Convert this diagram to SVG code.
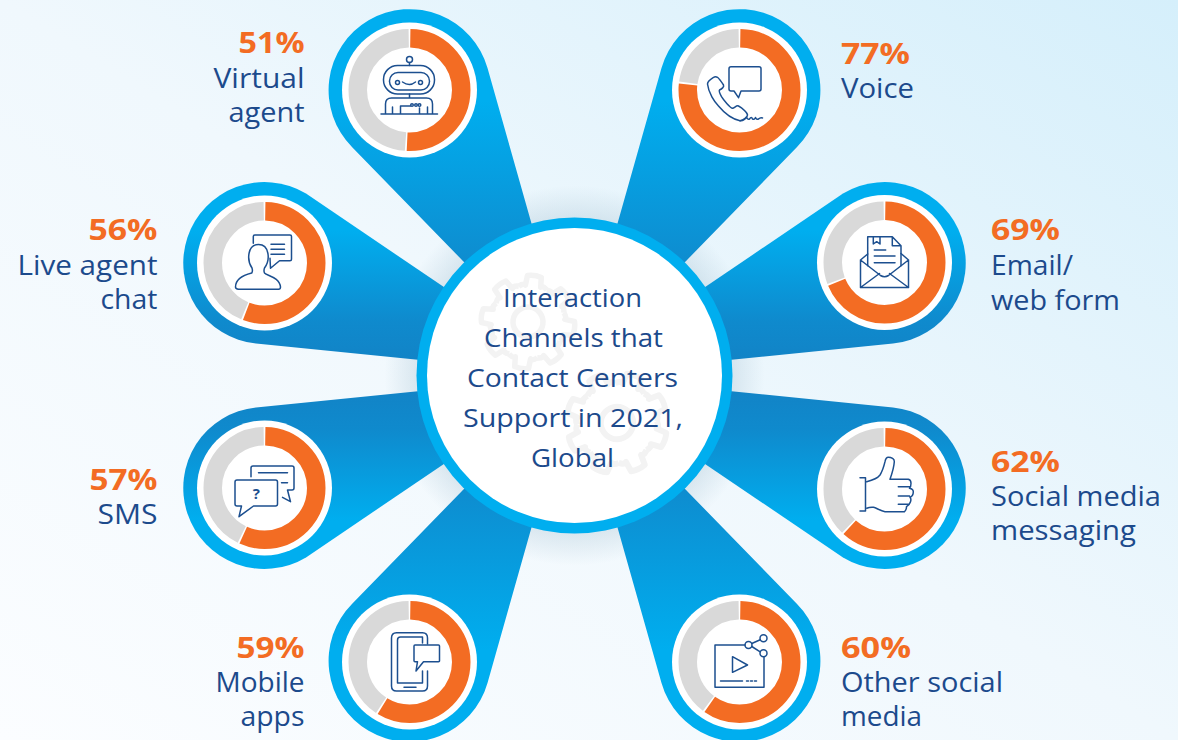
<svg xmlns="http://www.w3.org/2000/svg" width="1178" height="740" viewBox="0 0 1178 740">
<style>
.t{font-family:"Open Sans","Noto Sans","Liberation Sans",sans-serif;font-size:27px;font-weight:500;fill:#1c4a8c}
.p{font-family:"Open Sans","Noto Sans","Liberation Sans",sans-serif;font-size:29px;font-weight:700;fill:#f36c23}
.c{font-family:"Open Sans","Noto Sans","Liberation Sans",sans-serif;font-size:26px;font-weight:500;fill:#1c4a8c}
.ring{fill:#fff}
.g{fill:none;stroke:#d9d9d9;stroke-width:18.5}
.o{fill:none;stroke:#f36c23;stroke-width:18.5}
.i{fill:none;stroke:#1c4f8f;stroke-width:1.5;stroke-linecap:round;stroke-linejoin:round}
.gear{fill:none;stroke:#f3f3f3;stroke-width:5.5;stroke-linejoin:round}
</style>
<defs>
<linearGradient id="bg" x1="0" y1="1" x2="1" y2="0">
<stop offset="0" stop-color="#fbfdff"/><stop offset=".5" stop-color="#f0f8fd"/><stop offset="1" stop-color="#d5effb"/>
</linearGradient>
<radialGradient id="halo" cx="574.5" cy="375.5" r="190" gradientUnits="userSpaceOnUse">
<stop offset=".8" stop-color="#a9c4d4" stop-opacity=".4"/><stop offset="1" stop-color="#a9c4d4" stop-opacity="0"/>
</radialGradient>
<linearGradient id="pg" x1="0" y1="0" x2="0" y2="1">
<stop offset=".25" stop-color="#00aeef"/><stop offset=".72" stop-color="#0f8acd"/><stop offset="1" stop-color="#1381c4"/>
</linearGradient>
<path id="pa" fill="url(#pg)" d="M574.5,375.5L487.5,68A81,81 0 1 0 352.2,147.3Z"/>
<path id="pb" fill="url(#pg)" d="M574.5,375.5L256,343.6A81,81 0 1 1 306,193.6Z"/>
<path id="seg" d="M34.2,-14.2Q38,-10 36.2,-7.7L46,-7Q48,0 46,7L36.2,7.7Q38,10 34.2,14.2"/>
<g id="gearShape" class="gear">
<use href="#seg"/><use href="#seg" transform="rotate(45)"/><use href="#seg" transform="rotate(90)"/><use href="#seg" transform="rotate(135)"/><use href="#seg" transform="rotate(180)"/><use href="#seg" transform="rotate(225)"/><use href="#seg" transform="rotate(270)"/><use href="#seg" transform="rotate(315)"/>
<circle r="15"/>
</g>
</defs>
<rect width="1178" height="740" fill="url(#bg)"/>
<circle cx="574.5" cy="375.5" r="190" fill="url(#halo)"/>
<g id="connectors">
<use href="#pa"/>
<use href="#pa" transform="translate(1149,0) scale(-1,1)"/>
<use href="#pb"/>
<use href="#pb" transform="translate(1149,0) scale(-1,1)"/>
<use href="#pb" transform="translate(0,751) scale(1,-1)"/>
<use href="#pb" transform="translate(1149,751) scale(-1,-1)"/>
<use href="#pa" transform="translate(0,751) scale(1,-1)"/>
<use href="#pa" transform="translate(1149,751) scale(-1,-1)"/>
</g>

<g id="center">
<circle cx="574.5" cy="375.5" r="158" fill="#00aeef"/>
<circle cx="574.5" cy="375.5" r="147.5" fill="#fff"/>
<use href="#gearShape" transform="translate(528,322) rotate(8)"/>
<use href="#gearShape" transform="translate(617,423) rotate(20) scale(1.08)"/>
<text class="c" x="572.5" y="307" text-anchor="middle" textLength="139" lengthAdjust="spacingAndGlyphs">Interaction</text>
<text class="c" x="573.5" y="347" text-anchor="middle" textLength="179" lengthAdjust="spacingAndGlyphs">Channels that</text>
<text class="c" x="572.5" y="387" text-anchor="middle" textLength="211" lengthAdjust="spacingAndGlyphs">Contact Centers</text>
<text class="c" x="573" y="427" text-anchor="middle" textLength="220" lengthAdjust="spacingAndGlyphs">Support in 2021,</text>
<text class="c" x="572.5" y="467" text-anchor="middle" textLength="83" lengthAdjust="spacingAndGlyphs">Global</text>
</g>

<g id="virtual-agent">
<g transform="translate(409.5,90)">
<circle class="ring" r="67.5"/>
<g transform="rotate(-90)"><circle class="g" r="51.75" pathLength="100" stroke-dasharray="48.5 51.5" stroke-dashoffset="-51.25"/><circle class="o" r="51.75" pathLength="100" stroke-dasharray="50.5 49.5" stroke-dashoffset="-.25"/></g>
<g class="i"><circle cy="-30.5" r="3"/><path d="M0-27.5V-24.5M0 4V8M-7-8Q0-3 6-8M-28.5 24H28M-24 24V14Q-24 8-18 8H17Q23 8 23 14V24M-17 17V24M-9 24V16H1M10 18V24M18 17V24"/><rect x="-26" y="-24.5" width="51" height="28.5" rx="14"/><rect x="-20" y="-17.5" width="40" height="17.5" rx="8.5"/><circle cx="-12" cy="-7.5" r="2"/><circle cx="11" cy="-7.5" r="2"/><circle cx="2.5" cy="15" r="1.3"/><circle cx="6.5" cy="15" r="1.3"/><circle cx="10" cy="15" r="1.3"/></g>
</g>
<text class="p" x="304.5" y="53" text-anchor="end" textLength="66" lengthAdjust="spacingAndGlyphs">51%</text>
<text class="t" x="304.5" y="88" text-anchor="end" textLength="91" lengthAdjust="spacingAndGlyphs">Virtual</text>
<text class="t" x="304.5" y="122" text-anchor="end" textLength="76" lengthAdjust="spacingAndGlyphs">agent</text>
</g>

<g id="voice">
<g transform="translate(739.5,90)">
<circle class="ring" r="67.5"/>
<g transform="rotate(-90)"><circle class="g" r="51.75" pathLength="100" stroke-dasharray="22.5 77.5" stroke-dashoffset="-77.25"/><circle class="o" r="51.75" pathLength="100" stroke-dasharray="76.5 23.5" stroke-dashoffset="-.25"/></g>
<g class="i"><path d="M-8.5-23.3H19.5Q21.5-23.3 21.5-21.3V-1Q21.5 1 19.5 1H1.5L-1 7.7L-5.5 1H-8.5Q-10.5 1-10.5-1V-21.3Q-10.5-23.3-8.5-23.3Z"/><path d="M-26-12.7Q-32-9-32-6C-31 3-25 12-21 16C-16 22-8 29 0.5 30.7C4 30 8 27 8 25C8 23 3 18-1 16C-3 15-5 18-7 18.3C-9 18.5-16 10-18 6.7C-20 3-21 1-20 0C-18-1-15-3-16-5C-18-8-20-11-22-12.7Q-24-14-26-12.7Z"/><path d="M0.5 30.7Q5 31 7 27Q8 30 10 29Q12 26 13 29Q15 30 16 27.5Q17 30 19 29Q21 27 23 28"/></g>
</g>
<text class="p" x="841" y="64" textLength="69" lengthAdjust="spacingAndGlyphs">77%</text>
<text class="t" x="841" y="98" textLength="73" lengthAdjust="spacingAndGlyphs">Voice</text>
</g>

<g id="live-agent-chat">
<g transform="translate(264.5,263)">
<circle class="ring" r="67.5"/>
<g transform="rotate(-90)"><circle class="g" r="51.75" pathLength="100" stroke-dasharray="43.5 56.5" stroke-dashoffset="-56.25"/><circle class="o" r="51.75" pathLength="100" stroke-dasharray="55.5 44.5" stroke-dashoffset="-.25"/></g>
<g class="i"><path d="M-11.2-19.7V-26.5Q-11.2-28-9.7-28H25.5Q27-28 27-26.5V-3.8Q27-2.3 25.5-2.3H15L6 5.3L5.5-4.7M6.5-18.7H20M6.5-13.7H20M6.5-8.7H20"/><path d="M-12.5 5C-18-3-17-18.5-6-18.5C5-18.5 6-3 0 5Q-1 8 0 10C3 13 15 14 16 24Q16 26.3 14 26.3H-26Q-29 26-29 24C-29 18-25 13-12.8 10Q-11.5 8-12.5 5Z"/></g>
</g>
<text class="p" x="157.5" y="240" text-anchor="end" textLength="69" lengthAdjust="spacingAndGlyphs">56%</text>
<text class="t" x="157.5" y="275" text-anchor="end" textLength="140" lengthAdjust="spacingAndGlyphs">Live agent</text>
<text class="t" x="157.5" y="309" text-anchor="end" textLength="57" lengthAdjust="spacingAndGlyphs">chat</text>
</g>

<g id="email-web-form">
<g transform="translate(884.5,262.5)">
<circle class="ring" r="67.5"/>
<g transform="rotate(-90)"><circle class="g" r="51.75" pathLength="100" stroke-dasharray="30.5 69.5" stroke-dashoffset="-69.25"/><circle class="o" r="51.75" pathLength="100" stroke-dasharray="68.5 31.5" stroke-dashoffset="-.25"/></g>
<g class="i"><path d="M-16.8 3.2V-25.8H7.8L16.5-16.8V3.2M7.8-25.8V-16.8H16.5M-11.2-25.8V-18.5L-7.8-20.8L-4.5-18.5V-25.8M-10.2-12.5H1.2M-10.2-6.5H10.5M-10.2 0.2H10.5"/><path d="M-16.8-8.5L-24-2.5V25H24V-2.5L16.5-9M-24-2.5L-4 13Q0 15.5 4 13L24-2.5M-24 25L-5 11M24 25L5 11"/></g>
</g>
<text class="p" x="991" y="240" textLength="69" lengthAdjust="spacingAndGlyphs">69%</text>
<text class="t" x="991" y="275" textLength="82" lengthAdjust="spacingAndGlyphs">Email/</text>
<text class="t" x="991" y="310" textLength="129" lengthAdjust="spacingAndGlyphs">web form</text>
</g>

<g id="sms">
<g transform="translate(264.5,488)">
<circle class="ring" r="67.5"/>
<g transform="rotate(-90)"><circle class="g" r="51.75" pathLength="100" stroke-dasharray="42.5 57.5" stroke-dashoffset="-57.25"/><circle class="o" r="51.75" pathLength="100" stroke-dasharray="56.5 43.5" stroke-dashoffset="-.25"/></g>
<g class="i"><path d="M-13.5-11.3V-20Q-13.5-22-11.5-22H27.5Q29.5-22 29.5-20V0Q29.5 2 27.5 2H23L26 13.7L18 9.3M-6-15.3H23M17-5.3H23"/><path d="M-27.5-8H11Q13-8 13-6V16Q13 18 11 18H-11L-25.5 28.7L-23 18H-27.5Q-29.5 18-29.5 16V-6Q-29.5-8-27.5-8Z"/></g>
<text x="-8.2" y="11.3" text-anchor="middle" font-family="Open Sans, sans-serif" font-size="15" font-weight="700" fill="#1c4f8f">?</text>
</g>
<text class="p" x="157.5" y="490" text-anchor="end" textLength="68" lengthAdjust="spacingAndGlyphs">57%</text>
<text class="t" x="157.5" y="524" text-anchor="end" textLength="60" lengthAdjust="spacingAndGlyphs">SMS</text>
</g>

<g id="social-media-messaging">
<g transform="translate(884.5,489)">
<circle class="ring" r="67.5"/>
<g transform="rotate(-90)"><circle class="g" r="51.75" pathLength="100" stroke-dasharray="37.5 62.5" stroke-dashoffset="-62.25"/><circle class="o" r="51.75" pathLength="100" stroke-dasharray="61.5 38.5" stroke-dashoffset="-.25"/></g>
<g class="i"><path d="M-24.5-11.3H-19V22H-24.5"/><path d="M-17.8-7.3C-11-9-6-12-4.5-14C-2-18-.5-23 .5-27.3C1-30 2.5-31.7 3.8-31.7C7-31.7 10-30 9.8-27.3C9.5-22 7-14 5.5-9.7H23.8Q26.5-9 26.5-5.7Q26.5-2 25-.7Q28.8 0 28.8 2.7Q28.8 7 25.5 8.3Q27 10 26 12.7Q25 16 22 17.7Q22 21 20 22.7H.5C-4 22-8 19-11 18.3Q-15 18-17.8 19.3M13.8-2.3H25M13.8 7H25M13.8 15.3H24"/></g>
</g>
<text class="p" x="991" y="472" textLength="69" lengthAdjust="spacingAndGlyphs">62%</text>
<text class="t" x="991" y="506" textLength="170" lengthAdjust="spacingAndGlyphs">Social media</text>
<text class="t" x="991" y="540" textLength="145" lengthAdjust="spacingAndGlyphs">messaging</text>
</g>

<g id="mobile-apps">
<g transform="translate(409.5,662)">
<circle class="ring" r="67.5"/>
<g transform="rotate(-90)"><circle class="g" r="51.75" pathLength="100" stroke-dasharray="40.5 59.5" stroke-dashoffset="-59.25"/><circle class="o" r="51.75" pathLength="100" stroke-dasharray="58.5 41.5" stroke-dashoffset="-.25"/></g>
<g class="i"><path d="M18-18V-24Q18-29.3 13-29.3H-13Q-18-29.3-18-24V24Q-18 29-13 29H13Q18 29 18 24V9M13-19V-25H-9Q-12-25-12-22V21H13V9M-5.5 25.3H6.5"/><path d="M5.5-17H29Q30-17 30-16V-1.3Q30-.3 29-.3H14L6.5 9L8-.3H5.5Q4.5-.3 4.5-1.3V-16Q4.5-17 5.5-17Z"/></g>
</g>
<text class="p" x="304.5" y="658" text-anchor="end" textLength="68" lengthAdjust="spacingAndGlyphs">59%</text>
<text class="t" x="304.5" y="692" text-anchor="end" textLength="89" lengthAdjust="spacingAndGlyphs">Mobile</text>
<text class="t" x="304.5" y="726" text-anchor="end" textLength="64" lengthAdjust="spacingAndGlyphs">apps</text>
</g>

<g id="other-social-media">
<g transform="translate(739.5,662)">
<circle class="ring" r="67.5"/>
<g transform="rotate(-90)"><circle class="g" r="51.75" pathLength="100" stroke-dasharray="39.5 60.5" stroke-dashoffset="-60.25"/><circle class="o" r="51.75" pathLength="100" stroke-dasharray="59.5 40.5" stroke-dashoffset="-.25"/></g>
<g class="i"><path d="M5.5-17H-24.5V25.3H24.5V-5.2M-7-5.3L8 3L-7 10.3ZM-19 19H3M7 19H9M11 19H13M15 19H17M12.3-18.5L20.7-22.2M12.3-15.5L20.7-10.2"/><circle cx="9" cy="-17" r="3.5"/><circle cx="24" cy="-23.7" r="3.5"/><circle cx="24" cy="-8.7" r="3.5"/></g>
</g>
<text class="p" x="841" y="658" textLength="70" lengthAdjust="spacingAndGlyphs">60%</text>
<text class="t" x="841" y="692" textLength="162" lengthAdjust="spacingAndGlyphs">Other social</text>
<text class="t" x="841" y="726" textLength="81" lengthAdjust="spacingAndGlyphs">media</text>
</g>
</svg>
